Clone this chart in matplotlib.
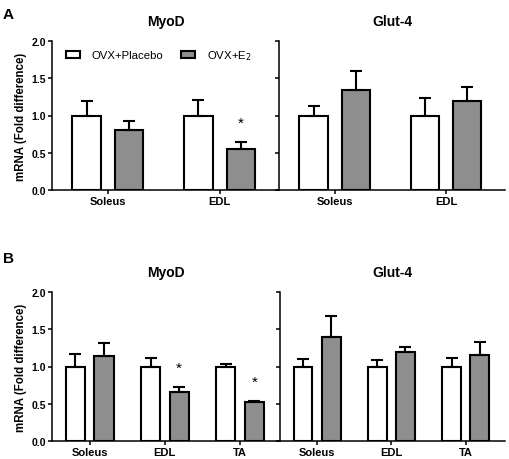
import numpy as np
import matplotlib
matplotlib.use("Agg")
import matplotlib.pyplot as plt

plt.rcParams['font.family'] = ['Liberation Sans', 'DejaVu Sans']

# ---- data ----
groups_A = ['Soleus', 'EDL']
myod_A_placebo = [1.00, 1.00]
myod_A_placebo_err = [0.20, 0.21]
myod_A_e2 = [0.81, 0.55]
myod_A_e2_err = [0.11, 0.09]
myod_A_sig = [False, True]

glut_A_placebo = [1.00, 1.00]
glut_A_placebo_err = [0.13, 0.23]
glut_A_e2 = [1.35, 1.19]
glut_A_e2_err = [0.25, 0.20]
glut_A_sig = [False, False]

groups_B = ['Soleus', 'EDL', 'TA']
myod_B_placebo = [1.00, 1.00, 1.00]
myod_B_placebo_err = [0.17, 0.11, 0.04]
myod_B_e2 = [1.14, 0.65, 0.52]
myod_B_e2_err = [0.17, 0.07, 0.02]
myod_B_sig = [False, True, True]

glut_B_placebo = [1.00, 1.00, 1.00]
glut_B_placebo_err = [0.10, 0.09, 0.11]
glut_B_e2 = [1.40, 1.19, 1.15]
glut_B_e2_err = [0.28, 0.07, 0.18]
glut_B_sig = [False, False, False]

GRAY = '#8e8e8e'
W = 0.255
OFF = 0.19
LW = 1.5


def draw(ax, groups, plac, plac_err, e2, e2_err, sig, title, first):
    x = np.arange(len(groups)) + 0.5
    ek = dict(lw=LW, capthick=LW, capsize=4.5, ecolor='black')
    z = np.zeros(len(groups))
    ax.bar(x - OFF, plac, W, yerr=[z, plac_err], color='white', edgecolor='black',
           linewidth=LW, error_kw=ek, label='OVX+Placebo', zorder=2)
    ax.bar(x + OFF, e2, W, yerr=[z, e2_err], color=GRAY, edgecolor='black',
           linewidth=LW, error_kw=ek, label='OVX+E$_2$', zorder=2)
    for xi, v, e, s in zip(x, e2, e2_err, sig):
        if s:
            ax.text(xi + OFF, v + e + 0.26, '*', ha='center', va='center', fontsize=11)
    ax.set_xlim(0, len(groups) + 0.03)
    ax.set_ylim(0, 2.0)
    ax.set_xticks(x)
    ax.set_xticklabels(groups, fontweight='bold', fontsize=8)
    ax.set_yticks([0, 0.5, 1.0, 1.5, 2.0])
    ax.set_title(title, fontsize=10, fontweight='bold', pad=12)
    for s in ['top', 'right']:
        ax.spines[s].set_visible(False)
    for s in ['left', 'bottom']:
        ax.spines[s].set_linewidth(1.1)
    ax.tick_params(axis='both', length=3, width=1.1, pad=1.5)
    if first:
        ax.set_yticklabels(['0.0', '0.5', '1.0', '1.5', '2.0'], fontweight='bold', fontsize=7.5)
        ax.set_ylabel('mRNA (Fold difference)', fontweight='bold', fontsize=8.3)
        ax.yaxis.set_label_coords(-0.11, 0.5)
    else:
        ax.set_yticklabels([])


fig = plt.figure(figsize=(5.09, 4.60), dpi=100)
W_px, H_px = 509, 460

def axes_at(x0, x1, ytop, ybot):
    return fig.add_axes([x0 / W_px, 1 - ybot / H_px, (x1 - x0) / W_px, (ybot - ytop) / H_px])

axA1 = axes_at(52, 279, 42.3, 190.7)
axA2 = axes_at(279, 505, 42.3, 190.7)
axB1 = axes_at(52, 280, 293.3, 441.7)
axB2 = axes_at(280, 505, 293.3, 441.7)

draw(axA1, groups_A, myod_A_placebo, myod_A_placebo_err, myod_A_e2, myod_A_e2_err, myod_A_sig, 'MyoD', True)
draw(axA2, groups_A, glut_A_placebo, glut_A_placebo_err, glut_A_e2, glut_A_e2_err, glut_A_sig, 'Glut-4', False)
draw(axB1, groups_B, myod_B_placebo, myod_B_placebo_err, myod_B_e2, myod_B_e2_err, myod_B_sig, 'MyoD', True)
draw(axB2, groups_B, glut_B_placebo, glut_B_placebo_err, glut_B_e2, glut_B_e2_err, glut_B_sig, 'Glut-4', False)

leg = axA1.legend(loc='upper left', bbox_to_anchor=(0.03, 1.0), ncol=2, frameon=False,
                  fontsize=8.2, handlelength=1.3, handleheight=0.6, handletextpad=1.0,
                  columnspacing=1.5, borderaxespad=0.2)

fig.text(3 / W_px, 1 - 8 / H_px, 'A', fontsize=11, fontweight='bold', va='top', ha='left')
fig.text(3 / W_px, 1 - 252 / H_px, 'B', fontsize=11, fontweight='bold', va='top', ha='left')

fig.savefig('out.png', dpi=100)
